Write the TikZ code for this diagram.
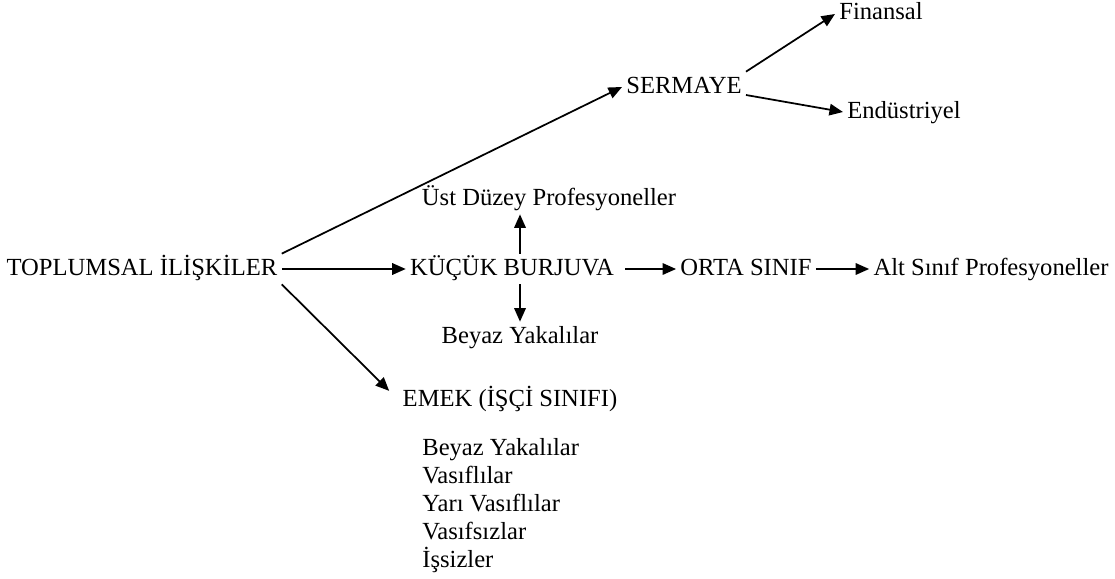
\documentclass[tikz,border=0pt]{standalone}
\usepackage{fontspec}
\setmainfont{Liberation Serif}
\usetikzlibrary{arrows.meta}

\begin{document}
\begin{tikzpicture}[x=0.02cm, y=-0.02cm,
    lbl/.style={inner sep=0.08cm, text height=0.34cm, text depth=0.1cm,
      font=\fontsize{14pt}{17pt}\selectfont},
    arr/.style={-{Triangle[length=0.27cm,width=0.23cm]}, line width=0.035cm}]
                \useasboundingbox (0,0) rectangle (1115,578);

                % Nodes
                \node[lbl] (toplum) at (142,269) {TOPLUMSAL İLİŞKİLER};
                \node[lbl] (kucuk) at (512,269) {KÜÇÜK BURJUVA};
                \node[lbl] (orta) at (746,269) {ORTA SINIF};
                \node[lbl] (alt) at (991,269) {Alt Sınıf Profesyoneller};
                \node[lbl] (sermaye) at (684,87) {SERMAYE};
                \node[lbl] (finansal) at (881,14) {Finansal};
                \node[lbl] (endustri) at (904,112) {Endüstriyel};
                \node[lbl] (ustduzey) at (549,199) {Üst Düzey Profesyoneller};
                \node[lbl] (beyaz) at (520,337) {Beyaz Yakalılar};
                \node[lbl] (emek) at (510,400) {EMEK (İŞÇİ SINIFI)};
                \node[lbl, anchor=north west, align=left, text height=, text depth=,
                  font=\fontsize{14pt}{15.9pt}\selectfont] (emekalt) at (418,434)
                  {Beyaz Yakalılar\\Vasıflılar\\Yarı Vasıflılar\\Vasıfsızlar\\İşsizler};

                % Edges
                \draw[arr] (toplum.north east)--(sermaye.west);
                \draw[arr] (toplum)--(kucuk);
                \draw[arr, shorten >=0.26cm] (toplum.south east)--(emek.west);
                \draw[arr] (kucuk.north -| beyaz)--(ustduzey.south -| beyaz);
                \draw[arr] (kucuk.south -| beyaz)--(beyaz);
                \draw[arr, shorten <=0.14cm] (kucuk)--(orta);
                \draw[arr] (orta)--(alt);
                \draw[arr] (sermaye.north east)--(finansal.west);
                \draw[arr] ([yshift=-0.16cm]sermaye.east)--(endustri.west);
            \end{tikzpicture}
\end{document}
